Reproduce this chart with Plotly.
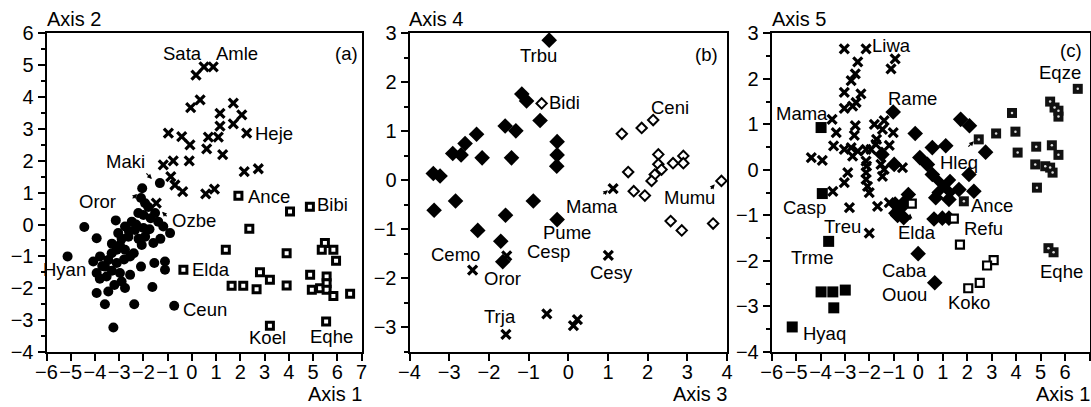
import plotly.graph_objects as go

# ---------------- Panel (a): Axis 1 vs Axis 2 ----------------
a_circ_x = [-1.32, -2.05, -2.10, -1.93, -2.21, -1.52, -1.39, -1.18, -0.90, -3.14, -4.44, -3.93, -2.48, -2.76,
            -2.35, -2.00, -1.93, -3.04, -2.62, -2.07, -1.59, -2.97, -3.10, -2.76, -3.31, -2.55, -3.45, -3.79,
            -3.10, -4.07, -5.13, -3.59, -3.93, -3.52, -2.97, -2.55, -2.90, -2.76, -2.10, -1.55, -1.11, -1.11,
            -1.63, -3.93, -3.45, -3.59, -2.38, -0.73, -3.24, -1.80, -1.70, -2.30, -2.60, -2.20, -2.90, -3.30,
            -2.40, -2.80, -3.70, -3.30, -3.80, -3.20, -1.75, -1.30, -2.00]
a_circ_y = [1.30, 1.14, 0.83, 0.67, 0.36, 0.36, 0.09, -0.06, -0.27, 0.13, -0.08, -0.43, 0.09, -0.06,
            -0.17, -0.11, -0.38, -0.27, -0.38, -0.64, -0.58, -0.64, -0.79, -0.79, -0.90, -1.00, -1.11, -1.00,
            -1.21, -1.16, -1.00, -1.32, -1.52, -1.63, -1.52, -1.58, -1.79, -1.99, -1.32, -1.21, -1.16, -1.42,
            -1.96, -2.15, -2.10, -2.50, -2.50, -2.55, -3.23, 0.55, 0.20, 0.00, -0.20, -0.45, -0.45, -0.60,
            -0.90, -1.10, -1.30, -1.45, -1.70, -1.90, -0.15, -0.45, 0.30]

a_cross_x = [0.17, 0.50, 0.88, -0.05, 0.34, 1.16, 1.71, 2.06, 1.16, 1.71, 2.26, -0.97, -0.42, -0.08, 0.68,
             1.09, 0.61, 1.27, -1.18, -0.77, -0.11, 2.16, 2.74, -0.87, -0.70, -0.38, 0.57, 0.93, -1.47]
a_cross_y = [4.69, 4.95, 4.95, 3.67, 3.91, 3.49, 3.81, 3.44, 3.09, 3.16, 2.87, 2.87, 2.76, 2.50, 2.74,
             2.74, 2.37, 2.19, 1.87, 2.00, 2.00, 1.66, 1.75, 1.50, 1.24, 1.03, 0.96, 1.11, 0.67]

a_sq_x = [1.92, 4.05, 4.87, 2.37, 1.40, 3.91, 5.49, 5.36, 5.84, 5.95, 2.81, 3.22, 1.64, 2.12, 2.67, 3.91,
          4.88, 4.95, 5.29, 5.56, 5.56, 5.56, 5.84, 6.53, 3.22, 5.54, -0.35]
a_sq_y = [0.90, 0.41, 0.56, -0.13, -0.79, -0.90, -0.58, -0.79, -0.79, -1.14, -1.50, -1.73, -1.92, -1.92,
          -2.03, -1.91, -1.58, -2.05, -2.00, -1.63, -1.84, -2.05, -2.24, -2.17, -3.18, -3.04, -1.42]

a_labels = ["Sata", "Amle", "Heje", "Maki", "Ance", "Oror", "Ozbe", "Bibi", "Hyan", "Elda", "Ceun", "Koel", "Eqhe"]
a_lab_x = [-0.37, 1.86, 2.55, -2.76, 2.28, -3.91, -0.86, 5.12, -5.24, -0.05, -0.42, 3.14, 5.77]
a_lab_y = [5.38, 5.38, 2.87, 1.97, 0.87, 0.71, 0.12, 0.62, -1.42, -1.42, -2.67, -3.55, -3.52]
a_lab_anchor = ["center", "center", "left", "center", "left", "center", "left", "left", "center", "left",
                "left", "center", "center"]

# ---------------- Panel (b): Axis 3 vs Axis 4 ----------------
b_fdia_x = [-0.48, -1.17, -1.05, -0.71, -1.59, -1.32, -2.31, -2.60, -2.91, -2.70, -2.17, -1.43, -0.28, -0.28,
            -0.29, -3.40, -3.23, -3.38, -2.84, -0.88, -1.58, -2.28, -0.28, -1.70, -1.65]
b_fdia_y = [2.86, 1.76, 1.62, 1.22, 1.11, 1.01, 0.94, 0.75, 0.55, 0.52, 0.46, 0.46, 0.79, 0.52,
            0.29, 0.14, 0.09, -0.61, -0.42, -0.42, -0.71, -1.02, -0.80, -1.24, -1.66]

b_odia_x = [-0.67, 1.35, 1.85, 2.14, 1.51, 2.27, 2.27, 2.35, 2.18, 2.10, 2.64, 2.90, 2.90, 1.65, 1.93, 3.86,
            2.58, 2.86, 3.65]
b_odia_y = [1.57, 0.95, 1.07, 1.23, 0.17, 0.53, 0.33, 0.22, 0.12, -0.01, 0.35, 0.50, 0.35, -0.22, -0.31, -0.01,
            -0.83, -1.02, -0.88]

b_cross_x = [1.13, -1.55, -2.41, 1.01, -1.57, -0.54, 0.23, 0.13]
b_cross_y = [-0.17, -1.54, -1.83, -1.53, -3.14, -2.72, -2.84, -2.96]

b_labels = ["Trbu", "Bidi", "Ceni", "Mama", "Mumu", "Pume", "Cemo", "Cesp", "Oror", "Cesy", "Trja"]
b_lab_x = [-0.76, -0.51, 2.56, 0.60, 3.06, -0.03, -2.85, -0.51, -1.65, 1.10, -1.72]
b_lab_y = [2.55, 1.59, 1.49, -0.53, -0.35, -1.06, -1.51, -1.45, -2.00, -1.88, -2.78]
b_lab_anchor = ["center", "left", "center", "center", "center", "center", "center", "center", "center",
                "center", "center"]

# ---------------- Panel (c): Axis 1 vs Axis 5 ----------------
c_cross_x = [-3.03, -2.14, -2.48, -0.95, -1.12, -2.58, -2.75, -3.03, -2.35, -2.55, -3.03, -2.69, -3.53, -3.36,
             -2.58, -2.62, -1.80, -1.40, -1.47, -1.03, -1.71, -3.47, -3.03, -2.75, -2.48, -2.14, -1.94, -1.74,
             -1.19, -2.69, -4.38, -3.93, -2.14, -2.12, -1.53, -1.40, -1.47, -2.14, -2.14, -2.08, -2.01, -2.89,
             -3.03, -3.50, -0.65, -2.82, -1.67, -1.19, -2.01]
c_cross_y = [2.66, 2.66, 2.37, 2.44, 2.22, 2.11, 1.96, 1.70, 1.67, 1.48, 1.35, 1.40, 1.11, 0.82,
             0.97, 0.76, 1.00, 1.08, 0.89, 0.82, 0.67, 0.53, 0.45, 0.49, 0.41, 0.45, 0.45, 0.56,
             0.54, 0.30, 0.27, 0.21, 0.19, 0.08, 0.12, 0.01, -0.14, -0.06, -0.21, -0.36, -0.50, -0.06,
             -0.28, -0.47, 0.05, -0.83, -0.80, -0.72, -1.39]

c_fdia_x = [1.73, 2.09, -0.13, 0.57, 1.12, 2.75, 0.06, 0.37, 0.57, 2.07, 1.66, 2.27, -1.03, -1.49, -0.99,
            0.64, 0.98, 1.25, -0.01, 0.67, 0.71, 1.25, -0.41, -0.95, -0.75, -0.55, -0.85, -0.60, -0.92]
c_fdia_y = [1.11, 0.97, 0.80, 0.49, 0.53, 0.39, 0.27, 0.12, -0.10, -0.10, -0.43, -0.47, 1.27, 0.34, 0.12,
            -1.08, -1.06, -1.06, -1.84, -2.48, -0.61, -0.65, -0.54, -0.75, -0.85, -0.70, -1.00, -1.05, -0.95]

c_big_x = [1.04]
c_big_y = [-0.36]

c_osq_x = [1.45, 1.70, 3.08, 2.81, 2.51, 2.04, -0.27]
c_osq_y = [-1.07, -1.64, -1.98, -2.10, -2.48, -2.60, -0.74]

c_dsq_x = [6.52, 5.39, 5.57, 5.73, 5.73, 3.83, 3.18, 2.47, 3.97, 4.06, 4.82, 5.46, 5.73, 4.78, 5.19, 5.39,
           5.49, 4.85, 1.86, 5.32, 5.53]
c_dsq_y = [1.78, 1.50, 1.37, 1.30, 1.17, 1.25, 0.80, 0.67, 0.84, 0.38, 0.51, 0.54, 0.33, 0.12, 0.08, 0.05,
           -0.06, -0.39, -0.69, -1.72, -1.81]

c_fsq_x = [-3.98, -3.93, -3.67, -3.98, -3.50, -2.99, -3.46, -5.16]
c_fsq_y = [0.93, -0.52, -1.57, -2.68, -2.68, -2.64, -3.03, -3.45]

c_labels = ["Liwa", "Eqze", "Rame", "Mama", "Hleq", "Casp", "Ance", "Refu", "Treu", "Elda", "Trme", "Caba",
            "Eqhe", "Ouou", "Koko", "Hyaq"]
c_lab_x = [-1.94, 6.71, -0.26, -4.78, 1.66, -4.66, 3.00, 2.68, -3.11, -0.05, -4.37, -0.58, 5.85, -0.58, 2.06, -3.84]
c_lab_y = [2.73, 2.15, 1.56, 1.23, 0.17, -0.83, -0.78, -1.28, -1.25, -1.38, -1.93, -2.20, -2.24, -2.73, -2.92, -3.59]
c_lab_anchor = ["left", "right", "center", "center", "center", "center", "center", "center", "center", "center",
                "center", "center", "center", "center", "center", "center"]

FONT = "Liberation Sans, Arial, Helvetica, sans-serif"
FS = 18.5
TFS = 20

fig = go.Figure()


def add(xs, ys, ax, symbol, size, color="black", lcolor="black", lw=0):
    fig.add_trace(go.Scatter(x=xs, y=ys, mode="markers", xaxis=ax[0], yaxis=ax[1], showlegend=False,
                             hoverinfo="skip", cliponaxis=False,
                             marker=dict(symbol=symbol, size=size, color=color,
                                         line=dict(color=lcolor, width=lw))))


A = ("x", "y")
B = ("x2", "y2")
C = ("x3", "y3")

add(a_circ_x, a_circ_y, A, "circle", 10)
add(a_cross_x, a_cross_y, A, "x-thin", 9, lw=3.2)
add(a_sq_x, a_sq_y, A, "square", 7, color="white", lw=3)

add(b_fdia_x, b_fdia_y, B, "diamond", 12)
add(b_odia_x, b_odia_y, B, "diamond", 8, color="white", lw=2)
add(b_cross_x, b_cross_y, B, "x-thin", 9, lw=3.2)

add(c_cross_x, c_cross_y, C, "x-thin", 9, lw=3.2)
add(c_fdia_x, c_fdia_y, C, "diamond", 12)
add(c_big_x, c_big_y, C, "x", 22)
add(c_osq_x, c_osq_y, C, "square", 8, color="white", lw=2.2)
add(c_dsq_x, c_dsq_y, C, "square", 10, color="#111111")
add(c_dsq_x, c_dsq_y, C, "circle", 2.5, color="#dddddd")
add(c_fsq_x, c_fsq_y, C, "square", 11)

annotations = []


def labels(names, xs, ys, anchors, ax):
    for n, x, y, an in zip(names, xs, ys, anchors):
        annotations.append(dict(text=n, x=x, y=y, xref=ax[0], yref=ax[1], xanchor=an, yanchor="middle",
                                showarrow=False, borderpad=0,
                                font=dict(family=FONT, size=FS, color="black")))


labels(a_labels, a_lab_x, a_lab_y, a_lab_anchor, A)
labels(b_labels, b_lab_x, b_lab_y, b_lab_anchor, B)
labels(c_labels, c_lab_x, c_lab_y, c_lab_anchor, C)

# panel tags
for tag, x, y, ax in [("(a)", 6.9, 5.38, A), ("(b)", 3.8, 2.57, B), ("(c)", 6.75, 2.62, C)]:
    annotations.append(dict(text=tag, x=x, y=y, xref=ax[0], yref=ax[1], xanchor="right", yanchor="middle",
                            showarrow=False, borderpad=0, font=dict(family=FONT, size=FS, color="black")))

# small pointer arrows
for x, y, dx, dy, ax in [(-1.65, 1.43, -7, -7, A), (-2.26, 0.96, -6, 6, A), (-1.23, 0.40, 6, 6, A),
                         (1.0, -0.2, -6, 5, B), (3.69, -0.08, -5, 6, B),
                         (2.27, 0.63, -7, 7, C), (-0.34, -0.96, 0, 8, C)]:
    annotations.append(dict(text="", x=x, y=y, xref=ax[0], yref=ax[1], ax=dx, ay=dy, showarrow=True,
                            arrowhead=2, arrowsize=0.8, arrowwidth=1.2, arrowcolor="black"))

W, H = 1091, 407
# axis titles (top ones centred on a line, bottom ones sitting on the page bottom)
for t, px, py, an, va in [("Axis 2", 46, 19, "left", "middle"), ("Axis 4", 408, 19, "left", "middle"),
                          ("Axis 5", 771, 19, "left", "middle"),
                          ("Axis 1", 363, 406, "right", "bottom"), ("Axis 3", 728, 406, "right", "bottom"),
                          ("Axis 1", 1091, 406, "right", "bottom")]:
    annotations.append(dict(text=t, x=px / W, y=1 - py / H, xref="paper", yref="paper", xanchor=an,
                            yanchor=va, showarrow=False, borderpad=0,
                            font=dict(family=FONT, size=TFS, color="black")))

ydom = [(H - 352) / H, (H - 33.3) / H]


def xax(dom, rng, anchor):
    return dict(domain=dom, range=rng, anchor=anchor, dtick=1, tick0=0, showline=True, linewidth=2,
                linecolor="black", mirror=True, ticks="outside", ticklen=7, tickwidth=2, tickcolor="black",
                showgrid=False, zeroline=False, automargin=False, tickangle=0, ticklabelstandoff=-6,
                tickfont=dict(family=FONT, size=TFS, color="black"))


def yax(rng, anchor):
    d = xax(ydom, rng, anchor)
    d["ticklabelstandoff"] = 0
    d["minor"] = dict(dtick=0.5, tick0=0, ticks="outside", ticklen=4, tickwidth=1.5, tickcolor="black",
                      showgrid=False)
    return d


fig.update_layout(
    width=W, height=H, autosize=False, margin=dict(l=0, r=0, t=0, b=0, pad=0),
    paper_bgcolor="white", plot_bgcolor="white",
    xaxis=xax([46.5 / W, 361.5 / W], [-6, 7], "y"),
    yaxis=yax([-4, 6], "x"),
    xaxis2=xax([409.5 / W, 727 / W], [-4, 4], "y2"),
    yaxis2=yax([-3.5, 3], "x2"),
    xaxis3=xax([771.7 / W, 1089.5 / W], [-6, 7], "y3"),
    yaxis3=yax([-4, 3], "x3"),
    annotations=annotations,
    font=dict(family=FONT, size=FS, color="black"),
)

fig.write_html("out.html")
